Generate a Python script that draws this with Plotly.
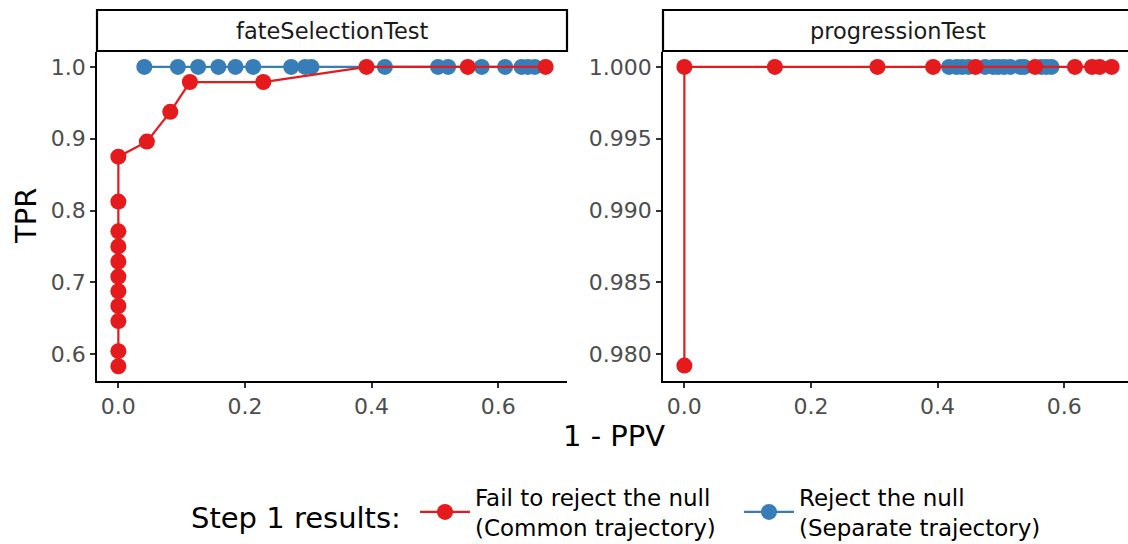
import plotly.graph_objects as go

# ---- data -------------------------------------------------------------
panels = ["fateSelectionTest", "progressionTest"]
series_names = ["Fail to reject the null<br>(Common trajectory)",
                "Reject the null<br>(Separate trajectory)"]
legend_title = "Step 1 results:"

# fateSelectionTest
fate_common_x = [0.0, 0.0, 0.0, 0.0, 0.0, 0.0, 0.0, 0.0, 0.0, 0.0, 0.0,
                 0.045, 0.082, 0.113, 0.229, 0.392, 0.552, 0.675]
fate_common_y = [0.583, 0.604, 0.646, 0.667, 0.6875, 0.708, 0.729, 0.75, 0.771, 0.8125, 0.875,
                 0.896, 0.9375, 0.979, 0.979, 1.0, 1.0, 1.0]
fate_separate_x = [0.041, 0.094, 0.126, 0.158, 0.185, 0.213, 0.273, 0.295, 0.305,
                   0.421, 0.505, 0.521, 0.574, 0.611, 0.637, 0.647, 0.658]
fate_separate_y = [1.0] * len(fate_separate_x)

# progressionTest
prog_common_x = [0.0, 0.0, 0.143, 0.305, 0.393, 0.460, 0.554, 0.617, 0.644, 0.656, 0.675]
prog_common_y = [0.9792, 1.0, 1.0, 1.0, 1.0, 1.0, 1.0, 1.0, 1.0, 1.0, 1.0]
prog_separate_x = [0.418, 0.430, 0.439, 0.449, 0.475, 0.488, 0.496, 0.505, 0.515,
                   0.531, 0.537, 0.564, 0.572, 0.580]
prog_separate_y = [1.0] * len(prog_separate_x)

left_yticks = [0.6, 0.7, 0.8, 0.9, 1.0]
right_yticks = [0.980, 0.985, 0.990, 0.995, 1.000]
xticks = [0.0, 0.2, 0.4, 0.6]

RED = "#E41A1C"
BLUE = "#377EB8"
FONT = "DejaVu Sans"
W, H = 1128, 544

fig = go.Figure()


def add_series(x, y, color, name, rank, xa, ya, show):
    fig.add_trace(go.Scatter(
        x=x, y=y, mode="lines+markers", name=name,
        line=dict(color=color, width=2.2),
        marker=dict(color=color, size=16),
        xaxis=xa, yaxis=ya, showlegend=show, legendrank=rank,
        legendgroup=name,
    ))


add_series(fate_separate_x, fate_separate_y, BLUE, series_names[1], 2, "x", "y", True)
add_series(fate_common_x, fate_common_y, RED, series_names[0], 1, "x", "y", True)
add_series(prog_separate_x, prog_separate_y, BLUE, series_names[1], 2, "x2", "y2", False)
add_series(prog_common_x, prog_common_y, RED, series_names[0], 1, "x2", "y2", False)


def px_x(p):
    return p / W


def px_y(p):
    return 1 - p / H


axis_common = dict(
    showline=True, linecolor="black", linewidth=1.8,
    ticks="outside", ticklen=5, tickwidth=1.6, tickcolor="#333333",
    showgrid=False, zeroline=False,
    tickfont=dict(family=FONT, size=22, color="#4d4d4d"),
)

fig.update_layout(
    xaxis=dict(domain=[px_x(97), px_x(567)], range=[-0.03375, 0.70875],
               tickvals=xticks, tickformat=".1f", anchor="y", **axis_common),
    yaxis=dict(domain=[px_y(381), px_y(52)], range=[0.5625, 1.02083],
               tickvals=left_yticks, tickformat=".1f", anchor="x", **axis_common),
    xaxis2=dict(domain=[px_x(663), 1.0], range=[-0.03375, 0.7008],
                tickvals=xticks, tickformat=".1f", anchor="y2", **axis_common),
    yaxis2=dict(domain=[px_y(381), px_y(52)], range=[0.978125, 1.0010417],
                tickvals=right_yticks, tickformat=".3f", anchor="x2", **axis_common),
)

# facet strips
strips = [(97, 567, panels[0]), (663, 1140, panels[1])]
for x0, x1, label in strips:
    fig.add_shape(type="rect", xref="paper", yref="paper",
                  x0=px_x(x0), x1=px_x(x1), y0=px_y(51), y1=px_y(10),
                  line=dict(color="black", width=2.2), fillcolor="white", layer="below")
    fig.add_annotation(text=label, xref="paper", yref="paper",
                       x=px_x((x0 + min(x1, 1133)) / 2), y=px_y(31),
                       showarrow=False, xanchor="center", yanchor="middle",
                       font=dict(family=FONT, size=22.5, color="#1a1a1a"))

# axis titles
fig.add_annotation(text="1 - PPV", xref="paper", yref="paper",
                   x=px_x(614), y=px_y(436), showarrow=False,
                   xanchor="center", yanchor="middle",
                   font=dict(family=FONT, size=29, color="black"))
fig.add_annotation(text="TPR", xref="paper", yref="paper",
                   x=px_x(26), y=px_y(216), showarrow=False, textangle=-90,
                   xanchor="center", yanchor="middle",
                   font=dict(family=FONT, size=29, color="black"))

# legend title, vertically centred on the two-line legend entries
fig.add_annotation(text=legend_title, xref="paper", yref="paper",
                   x=px_x(189), y=px_y(518), showarrow=False,
                   xanchor="left", yanchor="middle",
                   font=dict(family=FONT, size=29, color="black"))

fig.update_layout(
    width=W, height=H,
    margin=dict(l=0, r=0, t=0, b=0, autoexpand=False),
    paper_bgcolor="white", plot_bgcolor="white",
    font=dict(family=FONT),
    legend=dict(
        orientation="h", x=px_x(415), xanchor="left",
        y=px_y(512), yanchor="middle",
        bgcolor="rgba(0,0,0,0)",
        font=dict(family=FONT, size=23, color="black"),
        itemwidth=50, entrywidth=259, tracegroupgap=0,
    ),
)

fig.write_html("out.html")
